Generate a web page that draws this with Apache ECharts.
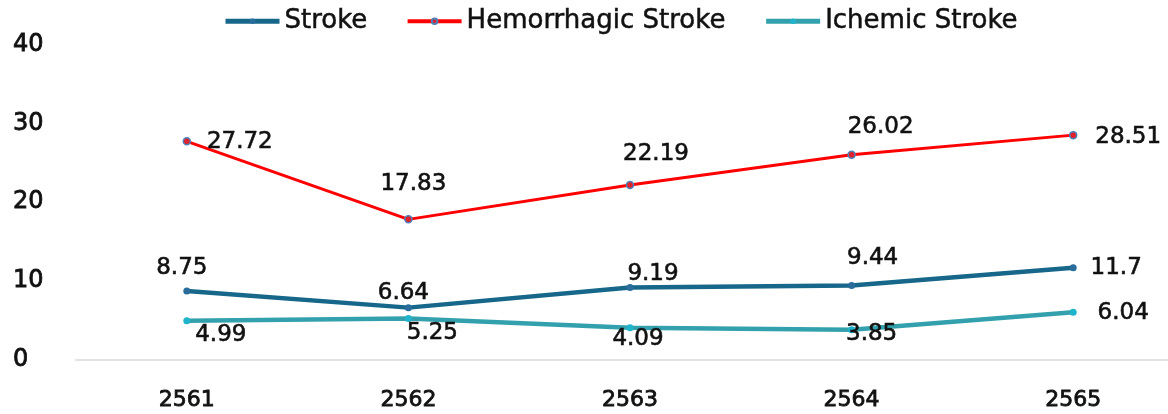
<!DOCTYPE html>
<html>
<head>
<meta charset="utf-8">
<script src="https://cdn.jsdelivr.net/npm/echarts@6/dist/echarts.min.js"></script>
<style>html,body{margin:0;padding:0;background:#fff;}#c{width:1168px;height:414px;}</style>
</head>
<body>
<div id="c"></div>
<script>
const categories = ['2561', '2562', '2563', '2564', '2565'];
const strokeValues = [8.75, 6.64, 9.19, 9.44, 11.7];
const hemorrhagicValues = [27.72, 17.83, 22.19, 26.02, 28.51];
const ischemicValues = [4.99, 5.25, 4.09, 3.85, 6.04];
const seriesNames = ['Stroke', 'Hemorrhagic Stroke', 'Ichemic Stroke'];
const yTicks = [0, 10, 20, 30, 40];

// label offsets (label centre relative to point), style only
const strokeLabelOffsets = [[-5, -23], [-5, -15], [23, -13], [21, -28], [43, 0]];
const hemLabelOffsets = [[53, 1], [5, -35], [26, -31], [29, -28], [55, 2]];
const ischLabelOffsets = [[34, 14], [24, 14], [8, 11], [20, 4], [50, 1]];

const FONT = 'DejaVu Sans';
const TXT = '#111';

function withLabels(values, offsets) {
  return values.map((v, i) => ({
    value: v,
    label: { position: 'inside', offset: offsets[i] }
  }));
}

const labelStyle = {
  show: true,
  color: TXT,
  fontFamily: FONT,
  fontSize: 23,
  textBorderColor: TXT,
  textBorderWidth: 0.6,
  formatter: p => String(p.value)
};

const chart = echarts.init(document.getElementById('c'), null, { renderer: 'canvas' });
chart.setOption({
  animation: false,
  backgroundColor: '#fff',
  legend: {
    left: 218,
    top: 3,
    itemWidth: 54,
    itemHeight: 7,
    itemGap: 38,
    textStyle: { fontFamily: FONT, fontSize: 26, color: TXT, textBorderColor: TXT, textBorderWidth: 0.5 },
    data: [
      { name: seriesNames[0], lineStyle: { width: 5 } },
      { name: seriesNames[1], lineStyle: { width: 4 } },
      { name: seriesNames[2], lineStyle: { width: 5 } }
    ]
  },
  grid: { left: 76, right: -16, top: 44.5, bottom: 54, containLabel: false, outerBoundsMode: 'none' },
  xAxis: {
    type: 'category',
    data: categories,
    boundaryGap: true,
    axisLine: { show: true, lineStyle: { color: '#d9d9d9', width: 1.5 } },
    axisTick: { show: false },
    axisLabel: { fontFamily: FONT, fontSize: 22, color: TXT, margin: 29, textBorderColor: TXT, textBorderWidth: 0.8 },
    splitLine: { show: false }
  },
  yAxis: {
    type: 'value',
    min: yTicks[0],
    max: yTicks[yTicks.length - 1],
    interval: 10,
    axisLine: { show: false },
    axisTick: { show: false },
    splitLine: { show: false },
    axisLabel: { fontFamily: FONT, fontSize: 24, color: TXT, align: 'left', margin: 63, textBorderColor: TXT, textBorderWidth: 0.8 }
  },
  series: [
    {
      name: seriesNames[0],
      type: 'line',
      data: withLabels(strokeValues, strokeLabelOffsets),
      symbol: 'circle',
      symbolSize: 7,
      color: '#17678a',
      itemStyle: { color: '#2a6c9c' },
      lineStyle: { color: '#17678a', width: 4.5 },
      label: labelStyle,
      z: 3
    },
    {
      name: seriesNames[1],
      type: 'line',
      data: withLabels(hemorrhagicValues, hemLabelOffsets),
      symbol: 'circle',
      symbolSize: 7,
      color: '#ff0000',
      itemStyle: { color: '#e0202a', borderColor: '#4f80b8', borderWidth: 1.5 },
      lineStyle: { color: '#ff0000', width: 3 },
      label: labelStyle,
      z: 2
    },
    {
      name: seriesNames[2],
      type: 'line',
      data: withLabels(ischemicValues, ischLabelOffsets),
      symbol: 'circle',
      symbolSize: 7,
      color: '#33a1ad',
      itemStyle: { color: '#1fb4cb' },
      lineStyle: { color: '#33a1ad', width: 4.5 },
      label: labelStyle,
      z: 2
    }
  ]
});
</script>
</body>
</html>
